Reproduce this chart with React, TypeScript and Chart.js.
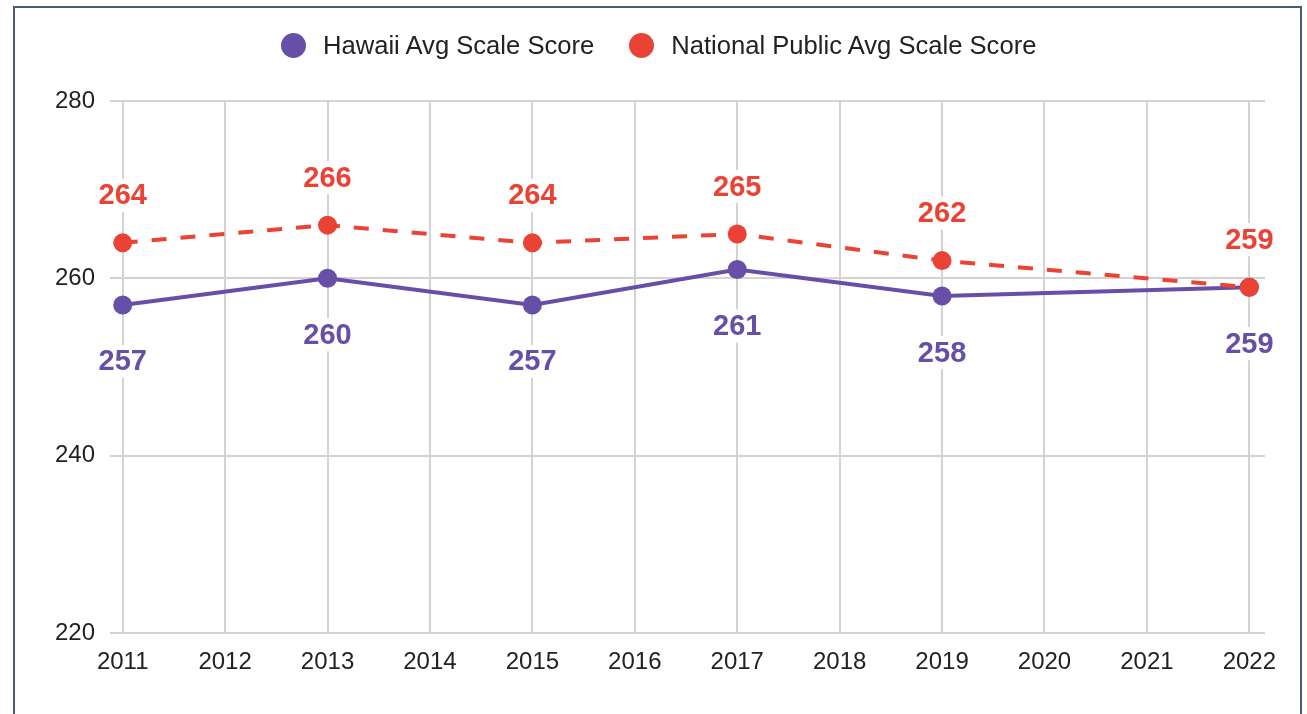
import React, { useEffect, useRef } from "react";
import { Chart, registerables } from "chart.js";

Chart.register(...registerables);

// ---- data ----
const years = [2011, 2013, 2015, 2017, 2019, 2022];
const hawaiiScores = [257, 260, 257, 261, 258, 259];
const nationalScores = [264, 266, 264, 265, 262, 259];
const xTickYears = [2011, 2012, 2013, 2014, 2015, 2016, 2017, 2018, 2019, 2020, 2021, 2022];
const yTickValues = [220, 240, 260, 280];
const seriesNames = ["Hawaii Avg Scale Score", "National Public Avg Scale Score"];

const PURPLE = "#674ea7";
const RED = "#ea4335";
const GRID = "#d3d3d3";
const TEXT = "#222222";
const FONT = "Arial, 'Liberation Sans', sans-serif";

// label offsets per dataset (px from the point, negative = above)
const labelOffsets = [56, -48];

const valueLabelPlugin = {
  id: "valueLabels",
  afterDatasetsDraw(chart: any) {
    const ctx = chart.ctx;
    chart.data.datasets.forEach((ds: any, i: number) => {
      const meta = chart.getDatasetMeta(i);
      const off = labelOffsets[i];
      meta.data.forEach((pt: any, j: number) => {
        const text = String(ds.data[j].y);
        ctx.save();
        ctx.font = `bold 29px ${FONT}`;
        const w = ctx.measureText(text).width;
        const cx = pt.x;
        const cy = pt.y + off;
        ctx.fillStyle = "#ffffff";
        ctx.fillRect(cx - w / 2 - 4, cy - 16, w + 8, 33);
        ctx.fillStyle = ds.borderColor;
        ctx.textAlign = "center";
        ctx.textBaseline = "middle";
        ctx.fillText(text, cx, cy + 1.5);
        ctx.restore();
      });
    });
  },
};

export default function App() {
  const canvasRef = useRef<HTMLCanvasElement | null>(null);

  useEffect(() => {
    document.body.style.margin = "0";
    const canvas = canvasRef.current;
    if (!canvas) return;
    const chart = new Chart(canvas, {
      type: "line",
      data: {
        datasets: [
          {
            label: seriesNames[0],
            data: years.map((y, i) => ({ x: y, y: hawaiiScores[i] })),
            borderColor: PURPLE,
            backgroundColor: PURPLE,
            borderWidth: 4,
            pointRadius: 9.5,
            pointHoverRadius: 9.5,
            pointBorderWidth: 0,
            tension: 0,
            order: 1,
          },
          {
            label: seriesNames[1],
            data: years.map((y, i) => ({ x: y, y: nationalScores[i] })),
            borderColor: RED,
            backgroundColor: RED,
            borderWidth: 4,
            borderDash: [15, 14],
            pointRadius: 9.5,
            pointHoverRadius: 9.5,
            pointBorderWidth: 0,
            tension: 0,
            order: 0,
          },
        ],
      },
      options: {
        animation: false,
        responsive: true,
        maintainAspectRatio: false,
        layout: { padding: { top: 101, left: 0, right: 42, bottom: 0 } },
        plugins: {
          legend: { display: false },
          tooltip: { enabled: false },
        },
        scales: {
          x: {
            type: "linear",
            min: 2010.876,
            max: 2022.153,
            afterBuildTicks: (scale: any) => {
              scale.ticks = xTickYears.map((v) => ({ value: v }));
            },
            afterFit: (scale: any) => {
              scale.height = 81;
            },
            grid: { color: GRID, lineWidth: 2, drawTicks: false },
            border: { display: false },
            ticks: {
              padding: 15,
              color: TEXT,
              font: { size: 24, family: FONT },
              maxRotation: 0,
              autoSkip: false,
              callback: (v: any) => String(v),
            },
          },
          y: {
            min: 220,
            max: 280,
            afterBuildTicks: (scale: any) => {
              scale.ticks = yTickValues.map((v) => ({ value: v }));
            },
            afterFit: (scale: any) => {
              scale.width = 110;
            },
            grid: { color: GRID, lineWidth: 2, drawTicks: false },
            border: { display: false },
            ticks: {
              padding: 15,
              color: TEXT,
              font: { size: 24, family: FONT },
              callback: (v: any) => String(v),
            },
          },
        },
      },
      plugins: [valueLabelPlugin],
    });
    return () => chart.destroy();
  }, []);

  const legendItem = (color: string, text: string, marginLeft: number) => (
    <div style={{ display: "flex", alignItems: "center", marginLeft }}>
      <div
        style={{
          width: 25,
          height: 25,
          borderRadius: "50%",
          background: color,
          marginRight: 17,
          flex: "0 0 auto",
        }}
      />
      <span style={{ fontFamily: FONT, fontSize: 25.6, color: TEXT, whiteSpace: "nowrap", lineHeight: "25px" }}>
        {text}
      </span>
    </div>
  );

  return (
    <div
      style={{
        position: "fixed",
        left: 0,
        top: 0,
        width: 1307,
        height: 714,
        overflow: "hidden",
        background: "#ffffff",
      }}
    >
      <div
        style={{
          position: "absolute",
          left: 13,
          top: 6,
          width: 1289,
          height: 800,
          borderLeft: "2px solid #4b5a78",
          borderTop: "2px solid #4b5a78",
          borderRight: "2px solid #4b5a78",
          boxSizing: "border-box",
        }}
      />
      <div style={{ position: "absolute", left: 0, top: 0, width: 1307, height: 714 }}>
        <canvas ref={canvasRef} />
      </div>
      <div
        style={{
          position: "absolute",
          left: 281,
          top: 33,
          height: 25,
          display: "flex",
          alignItems: "center",
        }}
      >
        {legendItem(PURPLE, seriesNames[0], 0)}
        {legendItem(RED, seriesNames[1], 35)}
      </div>
    </div>
  );
}
